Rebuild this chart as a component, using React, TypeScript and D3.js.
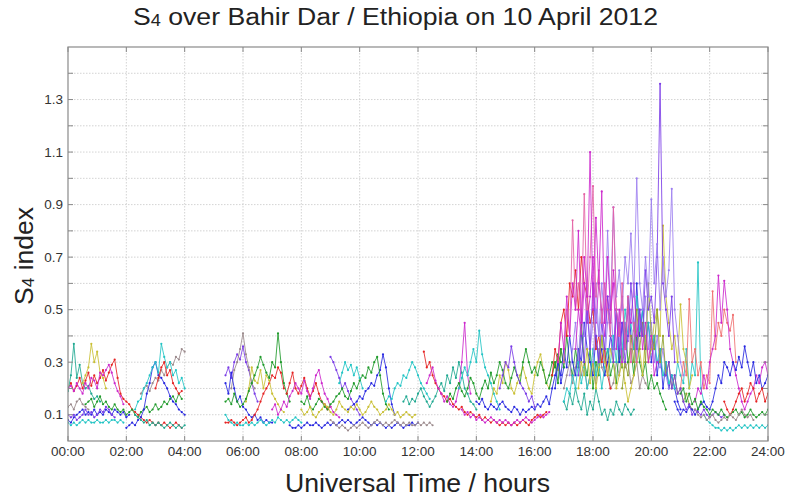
import React from "react";
import * as d3 from "d3";

// ---------- data (hour of first sample, 6-minute spacing) ----------
const STEP = 0.1;

const a1 = [0.07,0.06,0.07,0.06,0.07,0.08,0.07,0.08,0.07,0.07,0.08,0.07,0.07,0.08,0.07,0.08,0.08,0.07,0.08,0.07];
const a2 = [0.08,0.07,0.09,0.1,0.11,0.12,0.1,0.11,0.1,0.12,0.1,0.11,0.1,0.12,0.11,0.1,0.12,0.11,0.1,0.11,0.09,0.1];
const a3 = [0.2,0.22,0.19,0.21,0.24,0.2,0.23,0.26,0.21,0.25,0.22,0.24,0.27,0.23,0.26,0.29,0.31,0.24,0.18,0.16,0.15,0.14,0.12,0.11,0.1,0.09,0.08,0.07,0.08,0.07,0.06,0.07,0.06,0.07,0.06,0.05,0.06,0.07,0.06,0.05];
const a4 = [0.19,0.25,0.37,0.24,0.29,0.22,0.2,0.21,0.18,0.16,0.17,0.15];
const a5 = [0.14,0.15,0.16,0.13,0.15,0.17,0.14,0.15,0.13,0.12,0.14,0.12,0.11,0.12,0.1,0.11,0.12,0.1,0.09,0.11,0.12,0.13,0.11,0.12,0.14,0.12,0.13,0.15,0.14,0.16,0.17,0.15,0.18,0.16];
const a6 = [0.22,0.25,0.28,0.37,0.3,0.34,0.26,0.24,0.2];
const a7 = [0.2,0.21,0.19,0.22,0.2,0.18,0.22,0.2,0.24,0.23,0.2,0.26,0.25,0.27,0.29,0.26,0.22,0.19,0.17,0.14];
const a8 = [0.13,0.14,0.12,0.15,0.16,0.14,0.13,0.12];
const a8b = [0.18,0.2,0.21,0.19,0.22,0.24,0.23,0.27,0.25,0.28,0.3,0.29,0.32,0.31,0.35,0.34];
const a9 = [0.05,0.06,0.07,0.06,0.08,0.09,0.12,0.18,0.22,0.28,0.3,0.25,0.24,0.22,0.2,0.17,0.15,0.14,0.12,0.11,0.1];
const a10 = [0.12,0.15,0.16,0.2,0.22,0.25,0.28,0.3,0.26,0.37,0.32,0.28,0.3,0.25,0.27,0.22,0.24,0.2];
const a11 = [0.1,0.09,0.1,0.08,0.09,0.1,0.12,0.1,0.11,0.09,0.1,0.12,0.11,0.13,0.12,0.1,0.09];
const a12 = [0.1,0.09,0.08,0.07,0.08,0.06,0.07,0.06,0.07,0.06,0.05,0.06,0.07,0.06,0.05,0.06,0.05,0.06];
const a13 = [0.2,0.24,0.28,0.3,0.25,0.27,0.22,0.2,0.18,0.19];

const b1 = [0.25,0.28,0.24,0.3,0.33,0.31,0.36,0.3,0.27,0.22,0.18,0.15];
const b2 = [0.2,0.27,0.3,0.35,0.41,0.33,0.28,0.22,0.2];
const b3 = [0.22,0.18,0.26,0.2,0.15,0.17,0.13,0.12,0.1,0.09,0.1,0.08,0.09,0.07,0.08,0.07,0.07];
const b4 = [0.07,0.07,0.08,0.07,0.06,0.07,0.08,0.09,0.07,0.08,0.1,0.12,0.15,0.18,0.2,0.22,0.25,0.24,0.28,0.26,0.2];
const b5 = [0.1,0.08,0.07,0.06,0.07,0.06,0.06,0.07,0.06,0.07,0.06,0.07,0.08,0.07,0.06,0.07,0.08,0.07,0.09,0.08,0.07,0.08,0.07,0.08,0.09,0.08,0.07];
const b6 = [0.15,0.2,0.28,0.23,0.22,0.27,0.2,0.25,0.23,0.18,0.16,0.14,0.12,0.11];
const b7 = [0.15,0.16,0.14,0.18,0.15,0.13,0.14,0.16,0.19,0.22,0.25,0.28,0.32,0.29,0.26,0.24,0.3,0.28,0.41,0.3,0.22,0.18,0.15];
const b8 = [0.18,0.22,0.26,0.2,0.18,0.21,0.24,0.2,0.17,0.19,0.22,0.18,0.15,0.14,0.12,0.13];
const b9 = [0.12,0.14,0.1,0.12,0.15,0.13,0.17,0.19,0.22,0.2,0.18,0.23,0.19,0.16,0.2,0.25,0.27,0.22,0.18,0.16,0.13,0.11,0.1,0.09];
const b10 = [0.06,0.05,0.05,0.06,0.05,0.06,0.07,0.06,0.06,0.07,0.06,0.05,0.06,0.07,0.06,0.07,0.06,0.07,0.08,0.07,0.08,0.07,0.06,0.07,0.08,0.09,0.08,0.07,0.06,0.07,0.06,0.07,0.06,0.05,0.06,0.05,0.06,0.07,0.06,0.05,0.06,0.06,0.07,0.06,0.07];
const b11 = [0.32,0.3,0.27,0.24,0.2,0.22,0.19,0.16,0.14,0.12,0.1];
const b12 = [0.22,0.26,0.3,0.27,0.29,0.25,0.28,0.24,0.2];
const b13 = [0.12,0.13,0.14,0.15,0.17,0.16,0.19,0.2,0.22,0.21,0.25,0.27,0.33,0.28,0.2,0.14,0.1];
const b14 = [0.15,0.14,0.17,0.13,0.12,0.14,0.16,0.15,0.13,0.12,0.14,0.15,0.17,0.18,0.2,0.17,0.16,0.19,0.22,0.2,0.23,0.25,0.24,0.28,0.26,0.3,0.32,0.25,0.18,0.14,0.12];
const b15 = [0.12,0.1,0.11,0.13,0.1,0.09,0.11,0.12,0.14,0.13,0.11,0.1,0.12,0.15,0.13,0.12,0.11,0.13,0.12,0.14,0.12,0.1,0.11,0.13,0.15,0.13,0.12,0.1,0.11,0.12,0.14,0.12,0.1,0.11,0.09,0.1,0.11,0.1,0.09,0.1];
const b16 = [0.08,0.07,0.06,0.05,0.06,0.05,0.04,0.05,0.06,0.05,0.06,0.07,0.06,0.05,0.06,0.07,0.08,0.07,0.06,0.07,0.06,0.07,0.08,0.07,0.06,0.07,0.06,0.07,0.06,0.06,0.07,0.06,0.07,0.06,0.07,0.06];
const b17 = [0.15,0.17,0.16,0.2,0.22,0.21,0.25,0.24,0.27,0.3,0.28,0.25,0.22,0.2,0.18,0.16];
const b18 = [0.15,0.17,0.14,0.16,0.15,0.18,0.2,0.17,0.15,0.13,0.15,0.17,0.2,0.22,0.19,0.25,0.22,0.28,0.24,0.3,0.26,0.2,0.18,0.15,0.14,0.12];
const b19 = [0.34,0.28,0.3,0.25,0.22,0.2,0.18,0.17,0.15,0.16,0.14,0.13,0.12,0.13,0.11,0.1,0.11,0.1,0.09,0.1,0.08,0.09,0.08,0.07,0.08,0.07,0.06,0.07,0.06,0.07,0.06,0.07,0.06,0.07,0.08,0.07,0.06,0.08,0.09,0.1,0.09,0.1,0.11];
const b20 = [0.22,0.25,0.28,0.23,0.2,0.18,0.15,0.17,0.14,0.13,0.15,0.2,0.3,0.45,0.25,0.18];
const b21 = [0.2,0.24,0.28,0.25,0.3,0.35,0.3,0.42,0.33,0.28,0.25,0.22,0.18,0.15,0.12];
const b22 = [0.12,0.1,0.11,0.09,0.1,0.08,0.09,0.08,0.07,0.08,0.09,0.08,0.07,0.08,0.07,0.08,0.07,0.06,0.07,0.08,0.07,0.08,0.09,0.08,0.07,0.08,0.09,0.1,0.09,0.1,0.11];
const b23 = [0.15,0.14,0.16,0.13,0.12,0.14,0.13,0.12,0.14,0.15,0.13,0.12,0.11,0.13,0.12,0.1,0.12,0.11,0.12,0.13,0.12,0.14,0.13,0.15,0.17,0.14,0.2,0.25,0.3,0.22,0.28];
const b24 = [0.15,0.2,0.18,0.25,0.22,0.3,0.27,0.2,0.18,0.22,0.25,0.28,0.24,0.2,0.18,0.25,0.3,0.33,0.27,0.22,0.2,0.25,0.3,0.27,0.35,0.3];
const b25 = [0.15,0.18,0.16,0.2,0.22,0.19,0.17,0.2,0.24,0.22,0.18,0.16,0.2,0.23,0.2,0.26,0.22,0.25,0.3,0.27,0.22,0.2,0.24,0.28,0.25,0.22,0.3,0.35,0.3,0.26,0.28,0.25,0.3,0.27,0.22,0.25,0.3,0.28,0.33,0.3];
const b26 = [0.2,0.25,0.3,0.28,0.36,0.3,0.25,0.22,0.2,0.18,0.15,0.17,0.13];

const c1 = [0.3,0.45,0.35,0.55,0.4,0.6,0.5,0.8,0.45,0.7,0.55,1.1,0.5,0.85,0.6,0.95,0.45,0.7,0.5,0.6,0.35,0.5,0.3];
const c2 = [0.25,0.35,0.3,0.45,0.5,0.4,0.6,0.55,0.65,0.5,0.7,0.6,0.55,0.45,0.5,0.35,0.4,0.3,0.35,0.25,0.2];
const c3 = [0.3,0.5,0.4,0.84,0.5,0.6,0.45,0.94,0.5,0.7,0.97,0.55,0.65,0.45,0.6,0.5,0.4,0.89,0.5,0.4,0.6,0.35,0.55,0.3,0.45,0.3];
const c4 = [0.25,0.4,0.3,0.5,0.35,0.6,0.4,0.3,0.45,0.35,0.55,0.4,0.3,0.5,0.35,0.45,0.3,0.4,0.6,0.45,0.35,0.5,0.4,0.65,0.5,0.55,0.45,0.7,1.36,0.6,0.5,0.4,0.55,0.3];
const c5 = [0.2,0.3,0.25,0.35,0.28,0.4,0.3,0.25,0.35,0.3,0.45,0.35,0.3,0.25,0.4,0.3,0.35,0.25,0.3,0.4,0.35,0.5,0.3,0.45,0.35,0.55,0.4,0.35,0.6,0.4,0.5,0.35,0.45,0.3,0.4,0.25,0.35,0.2,0.3,0.2,0.25,0.2,0.15,0.12];
const c6 = [0.15,0.2,0.18,0.25,0.2,0.3,0.22,0.28,0.2,0.25,0.35,0.25,0.3,0.2,0.28,0.35,0.3,0.4,0.3,0.45,0.35,0.5,0.4,0.45,0.35,0.55,0.42,0.5,0.38,0.45,0.35,0.4,0.3,0.35,0.25,0.3,0.22,0.25,0.2,0.3,0.25,0.22,0.35,0.2,0.3,0.25,0.68,0.2,0.15];
const c7 = [0.2,0.25,0.3,0.22,0.35,0.28,0.4,0.3,0.25,0.35,0.28,0.45,0.3,0.25,0.35,0.2,0.3,0.25,0.4,0.3,0.35,0.25,0.3,0.22,0.35,0.28,0.45,0.3,0.35,0.25,0.4,0.3,0.25,0.3,0.2,0.25,0.2,0.22,0.18,0.15,0.12];
const c8 = [0.2,0.3,0.25,0.35,0.22,0.3,0.2,0.28,0.4,0.3,0.25,0.35,0.3,0.2,0.25,0.3,0.22,0.15,0.2,0.25,0.3,0.35,0.25,0.4,0.3,0.35,0.45,0.5,0.4,0.82,0.55,0.45,0.35,0.4,0.3,0.52,0.35,0.3,0.2,0.25];
const c9 = [0.3,0.5,0.4,0.6,0.45,0.8,0.5,0.89,0.55,0.65,0.5,0.7,0.6,0.79,0.55,1.0,0.6,0.5,0.7,0.55,0.92,0.6,0.75,0.5,0.7,0.55,0.65,0.96,0.5,0.4,0.3,0.25];
const c10 = [0.2,0.25,0.3,0.22,0.28,0.35,0.25,0.3,0.2,0.25,0.3,0.22,0.35,0.28,0.25,0.3,0.2,0.22,0.3,0.25,0.35,0.28,0.3,0.22,0.25,0.3,0.2,0.25,0.22,0.2];
const c11 = [0.15,0.12,0.18,0.14,0.2,0.15,0.12,0.18,0.1,0.15,0.12,0.2,0.15,0.1,0.12,0.08,0.12,0.1,0.15,0.12,0.1,0.14,0.12,0.1,0.12];
const c12 = [0.2,0.3,0.25,0.4,0.3,0.5,0.35,0.45,0.3,0.6,0.4,0.35,0.5,0.3,0.4,0.25,0.3,0.2,0.25,0.18,0.2,0.15,0.18,0.14,0.12];
const c13 = [0.25,0.35,0.45,0.3,0.5,0.4,0.55,0.35,0.45,0.6,0.4,0.5,0.3,0.45,0.55,0.35,0.5,0.4,0.3,0.45,0.38,0.5,0.42,0.3,0.48,0.4,0.55,0.35,0.45,0.3,0.4,0.28,0.35,0.25,0.2];
const c14 = [0.35,0.5,0.4,0.6,0.45,0.55,0.7,0.45,0.6,0.5,0.4,0.55,0.45,0.65,0.5,0.4,0.55,0.35,0.5,0.45,0.6,0.4,0.5,0.35,0.45,0.3,0.4,0.25,0.3];

const e1 = [0.2,0.3,0.25,0.54,0.3,0.35,0.25,0.3,0.2,0.25,0.22,0.57,0.35,0.45,0.4,0.5,0.45,0.42,0.48,0.3];
const e2 = [0.15,0.2,0.18,0.25,0.2,0.3,0.35,0.4,0.63,0.45,0.61,0.5,0.35,0.3,0.25,0.2,0.15,0.12,0.15,0.18,0.2,0.25,0.22,0.28,0.3,0.25];
const e3 = [0.15,0.12,0.1,0.12,0.11,0.13,0.12,0.1,0.12,0.14,0.15,0.13,0.12,0.15,0.2,0.25,0.22,0.3,0.28,0.25,0.3,0.27,0.32,0.28,0.36,0.3,0.25,0.3,0.22,0.25,0.2,0.22,0.25];
const e4 = [0.1,0.08,0.07,0.06,0.05,0.05,0.04,0.05,0.04,0.05,0.04,0.05,0.06,0.05,0.06,0.05,0.06,0.05,0.06,0.05,0.06,0.05,0.06];
const e5 = [0.25,0.3,0.2,0.25,0.18,0.2,0.15,0.12,0.14,0.1,0.12,0.11,0.1,0.12,0.1,0.09,0.1,0.11,0.1,0.09,0.1];
const e6 = [0.18,0.2,0.15,0.18,0.14,0.16,0.12,0.15,0.13,0.12,0.1,0.12,0.11,0.1,0.12,0.1,0.09,0.1,0.11,0.12,0.1,0.11,0.09,0.1,0.12,0.1,0.09,0.1,0.11,0.1,0.12];
const e7 = [0.15,0.12,0.1,0.12,0.15,0.18,0.2,0.15,0.18,0.22,0.2,0.15,0.18,0.2,0.15,0.18];
const e8 = [0.12,0.1,0.09,0.1,0.08,0.09,0.1,0.08,0.07,0.08,0.09,0.08,0.1,0.09,0.08,0.1,0.12,0.1,0.09,0.1,0.08];

// series list: values, start hour
const seriesValues = [a1,a2,a3,a4,a5,a6,a7,a8,a8b,a9,a10,a11,a12,a13,
  b1,b2,b3,b4,b5,b6,b7,b8,b9,b10,b11,b12,b13,b14,b15,b16,b17,b18,b19,b20,b21,b22,b23,b24,b25,b26,
  c10,c11,c7,c5,c13,c6,c2,c8,c12,c14,c4,c9,c3,c1,
  e1,e2,e3,e4,e5,e6,e7,e8];
const seriesStart = [0.0,0.0,0.0,0.0,0.6,0.5,0.0,0.0,2.5,2.0,2.3,0.0,2.3,3.0,
  5.4,5.6,5.4,5.4,5.4,6.1,5.4,7.5,7.0,7.6,9.0,9.3,9.6,8.0,8.0,9.0,10.9,11.5,12.2,12.3,13.4,13.5,14.0,14.5,13.0,14.8,
  17.0,17.0,16.5,16.7,17.2,17.0,16.6,17.5,19.0,17.4,17.5,18.0,17.0,16.8,
  21.0,21.5,20.8,21.8,20.5,21.0,22.5,21.5];
// colour index per series
const seriesColorIdx = [4,0,1,9,2,5,3,6,6,0,4,7,9,1,
  7,6,0,1,4,5,2,1,3,0,7,4,0,2,5,6,4,9,1,3,4,3,0,5,2,7,
  6,9,2,0,10,4,1,5,11,3,7,10,8,3,
  12,3,0,4,7,2,1,6];

const xTicks = [0,2,4,6,8,10,12,14,16,18,20,22,24];
const xTickLabels = ["00:00","02:00","04:00","06:00","08:00","10:00","12:00","14:00","16:00","18:00","20:00","22:00","24:00"];
const yGrid = [0.1,0.2,0.3,0.4,0.5,0.6,0.7,0.8,0.9,1.0,1.1,1.2,1.3,1.4];
const yTickLabels = [0.1,0.3,0.5,0.7,0.9,1.1,1.3];

const palette = ["#2727e0","#e52222","#1e9a2a","#cc28cc","#22c4c4","#c9bf33","#9b8a8c","#7a3ce6","#e462a4","#1fa890","#9c7ef0","#8fa02c","#f07070"];

export default function App() {
  const W = 785, H = 498;
  const L = 68, R = 768, T = 47, B = 441;
  const x = d3.scaleLinear().domain([0, 24]).range([L, R]);
  const y = d3.scaleLinear().domain([0, 1.5]).range([B, T]);
  const font = "'Liberation Sans', Arial, sans-serif";

  const line = d3.line<[number, number]>().x(d => x(d[0])).y(d => y(d[1]));

  const series = seriesValues.map((vals, i) => {
    const pts: [number, number][] = vals.map((v, j) => [seriesStart[i] + j * STEP, v]);
    return { pts, color: palette[seriesColorIdx[i]] };
  });

  return (
    <svg width={W} height={H} style={{ position: "absolute", left: 0, top: 0, background: "#fff" }} fontFamily={font}>
      <rect x={0} y={0} width={W} height={H} fill="#fff" />
      <defs>
        <clipPath id="clip"><rect x={L} y={T} width={R - L} height={B - T} /></clipPath>
      </defs>
      {/* grid */}
      {yGrid.map(v => (
        <line key={"gy" + v} x1={L} x2={R} y1={y(v)} y2={y(v)} stroke="#c8c8c8" strokeWidth={0.8} strokeDasharray="1.5,1.5" />
      ))}
      {xTicks.slice(1, -1).map(v => (
        <line key={"gx" + v} x1={x(v)} x2={x(v)} y1={T} y2={B} stroke="#c8c8c8" strokeWidth={0.8} strokeDasharray="1.5,1.5" />
      ))}
      {/* data */}
      <g clipPath="url(#clip)">
        {series.map((s, i) => (
          <g key={"s" + i}>
            <path d={line(s.pts) || ""} fill="none" stroke={s.color} strokeWidth={1} strokeOpacity={0.85} />
            {s.pts.map((p, j) => (
              <circle key={j} cx={x(p[0])} cy={y(p[1])} r={1.1} fill={s.color} />
            ))}
          </g>
        ))}
      </g>
      {/* frame */}
      <rect x={L} y={T} width={R - L} height={B - T} fill="none" stroke="#8a8a8a" strokeWidth={1.2} />
      {/* ticks */}
      {xTicks.map(v => (
        <g key={"tx" + v}>
          <line x1={x(v)} x2={x(v)} y1={B} y2={B - 5} stroke="#8a8a8a" />
          <line x1={x(v)} x2={x(v)} y1={T} y2={T + 5} stroke="#8a8a8a" />
        </g>
      ))}
      {yGrid.map(v => (
        <g key={"ty" + v}>
          <line x1={L} x2={L + 5} y1={y(v)} y2={y(v)} stroke="#8a8a8a" />
          <line x1={R} x2={R - 5} y1={y(v)} y2={y(v)} stroke="#8a8a8a" />
        </g>
      ))}
      {/* tick labels */}
      {xTicks.map((v, i) => (
        <text key={"lx" + v} x={x(v)} y={B + 15} textAnchor="middle" fontSize={13.5} fill="#333">{xTickLabels[i]}</text>
      ))}
      {yTickLabels.map(v => (
        <text key={"ly" + v} x={L - 5} y={y(v) + 4.5} textAnchor="end" fontSize={13.5} fill="#333">{v.toFixed(1)}</text>
      ))}
      {/* title */}
      <text x={133} y={25} fontSize={23.5} fill="#222" textLength={525} lengthAdjust="spacingAndGlyphs">
        S<tspan fontSize={16} dy={1}>4</tspan><tspan dy={-1}> over Bahir Dar / Ethiopia on 10 April 2012</tspan>
      </text>
      {/* axis labels */}
      <text x={285} y={492} fontSize={26} fill="#222" textLength={265} lengthAdjust="spacingAndGlyphs">Universal Time / hours</text>
      <text transform={`translate(33,${305}) rotate(-90)`} fontSize={26} fill="#222" textLength={98} lengthAdjust="spacingAndGlyphs">
        S<tspan fontSize={17} dy={1}>4</tspan><tspan dy={-1}> index</tspan>
      </text>
    </svg>
  );
}
